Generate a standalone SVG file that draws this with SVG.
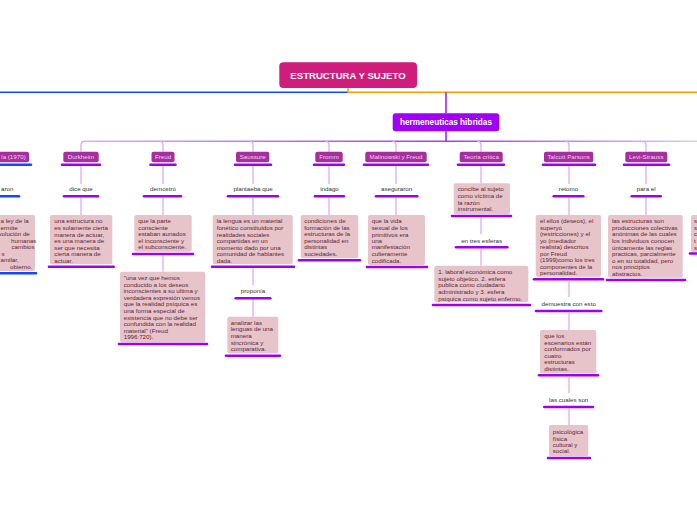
<svg xmlns="http://www.w3.org/2000/svg" width="697" height="520" viewBox="0 0 697 520">
<defs>
<linearGradient id="hg" gradientUnits="userSpaceOnUse" x1="0" y1="0" x2="697" y2="0">
<stop offset="0" stop-color="#e8c6fb"/>
<stop offset="0.64" stop-color="#a53cf5"/>
<stop offset="1" stop-color="#e8c6fb"/>
</linearGradient>
</defs>
<style>
text{font-family:"Liberation Sans",Arial,sans-serif;}
.n2 rect{fill:#a52f9c;}
.n2 text{fill:#f5cdf1;font-size:6.2px;text-anchor:middle;}
.ul{stroke:#a000f0;stroke-width:2.6;stroke-linecap:round;fill:none;}
.ulb{stroke:#1048ff;stroke-width:2.6;stroke-linecap:round;fill:none;}
.lbl{fill:#333;font-size:6.2px;text-anchor:middle;}
.bx rect{fill:#e6c4ca;}
.bx text{fill:#5e2434;font-size:6.2px;}
.c{stroke:#dcacf6;stroke-width:1.3;fill:none;}
</style>
<rect width="697" height="520" fill="#ffffff"/>

<g id="connectors">
<path d="M0,92.3 H348" stroke="#1048ff" stroke-width="1.4" fill="none"/>
<path d="M348,88 V92.3 H697" stroke="#f5a000" stroke-width="1.4" fill="none"/>
<path d="M446,92.3 V113.3" stroke="#a000f0" stroke-width="1.4" fill="none"/>
<path d="M446,131.3 V141.3" stroke="#a000f0" stroke-width="1.4" fill="none"/>
<path d="M81,151.7 V145 Q81,141.3 84.7,141.3 H697" stroke="url(#hg)" stroke-width="1.4" fill="none"/>
<path class="c" d="M159.3,141.3 Q163,141.3 163,145 V151.7"/>
<path class="c" d="M249.3,141.3 Q253,141.3 253,145 V151.7"/>
<path class="c" d="M325.3,141.3 Q329,141.3 329,145 V151.7"/>
<path class="c" d="M392.3,141.3 Q396,141.3 396,145 V151.7"/>
<path class="c" d="M477.3,141.3 Q481,141.3 481,145 V151.7"/>
<path class="c" d="M565.3,141.3 Q569,141.3 569,145 V151.7"/>
<path class="c" d="M642.3,141.3 Q646,141.3 646,145 V151.7"/>
<path class="c" d="M81,166 V184 M81,197.5 V215"/>
<path class="c" d="M163,166 V184 M163,197.5 V215 M163,255.5 V271.7"/>
<path class="c" d="M253,166 V184 M253,197.5 V215 M253,268 V285 M253,299.5 V316.7"/>
<path class="c" d="M329,166 V184 M329,197.5 V215"/>
<path class="c" d="M396,166 V184 M396,197.5 V215"/>
<path class="c" d="M481,166 V183.3 M481,217.5 V234 M481,248.8 V265.7"/>
<path class="c" d="M569,166 V184 M569,197.5 V215 M569,281 V297 M569,312.5 V330 M569,377 V393 M569,408.5 V425"/>
<path class="c" d="M646,166 V184 M646,197.5 V215"/>
</g>

<g id="root">
<rect x="279.3" y="62.3" width="137.7" height="25.7" rx="4" fill="#cf1d7b"/>
<text x="348" y="79.3" fill="#ffffff" font-size="9.6" font-weight="bold" text-anchor="middle">ESTRUCTURA Y SUJETO</text>
</g>

<g id="hermeneuticas">
<rect x="392.7" y="113.3" width="106.6" height="18" rx="3" fill="#a000f5"/>
<text x="446" y="125.3" fill="#ffffff" font-size="8.2" font-weight="bold" text-anchor="middle">hermeneuticas hibridas</text>
</g>

<g id="n-left">
<g class="n2"><rect x="-25" y="151.7" width="54" height="10.6" rx="2"/><text x="25.7" y="159.3" style="text-anchor:end">la (1970)</text></g>
<path class="ulb" d="M-5,164.8 H31"/>
<text class="lbl" x="13.5" y="191" style="text-anchor:end">aron</text>
<path class="ulb" d="M-5,196.3 H19"/>
<g class="bx"><rect x="-30" y="215" width="65" height="56" rx="2"/>
<text x="0.5" y="223.2">a ley de la</text>
<text x="0.5" y="229.9">ermite</text>
<text x="-1.5" y="236.2">volución de</text>
<text x="11" y="242.9">humanas</text>
<text x="11.5" y="249.2">cambios</text>
<text x="1.5" y="255.9">s</text>
<text x="0.5" y="262.2">amilar,</text>
<text x="10" y="268.9">obierno.</text>
</g>
<path class="ulb" d="M-5,273.3 H36"/>
</g>

<g id="n-durkheim">
<g class="n2"><rect x="63.3" y="151.7" width="35.4" height="10.6" rx="2"/><text x="81" y="159.3">Durkheim</text></g>
<path class="ul" d="M62,164.8 H100"/>
<text class="lbl" x="81" y="191">dice que</text>
<path class="ul" d="M64,196.3 H98"/>
<g class="bx"><rect x="50" y="215" width="62.3" height="49.3" rx="2"/>
<text x="54.3" y="223.2">una estructura no</text>
<text x="54.3" y="229.9">es solamente cierta</text>
<text x="54.3" y="236.5">manera de actuar,</text>
<text x="54.3" y="242.9">es una manera de</text>
<text x="54.3" y="249.5">ser que necesita</text>
<text x="54.3" y="255.9">cierta manera de</text>
<text x="54.3" y="262.5">actuar.</text>
</g>
<path class="ul" d="M49,266.7 H113.7"/>
</g>

<g id="n-freud">
<g class="n2"><rect x="151.5" y="151.7" width="23" height="10.6" rx="2"/><text x="163" y="159.3">Freud</text></g>
<path class="ul" d="M150.5,164.8 H175.5"/>
<text class="lbl" x="163" y="191">demostró</text>
<path class="ul" d="M144,196.3 H181"/>
<g class="bx"><rect x="134.3" y="215" width="57.4" height="36.7" rx="2"/>
<text x="138.3" y="223.2">que la parte</text>
<text x="138.3" y="229.9">consciente</text>
<text x="138.3" y="236.2">estaban aunados</text>
<text x="138.3" y="242.9">el inconsciente y</text>
<text x="138.3" y="249.2">el subconsciente.</text>
</g>
<path class="ul" d="M133,254 H193"/>
<g class="bx"><rect x="120" y="271.7" width="85.3" height="70.6" rx="2"/>
<text x="123.7" y="279.9">"una vez que hemos</text>
<text x="123.7" y="286.5">conducido a los deseos</text>
<text x="123.7" y="292.9">inconscientes a su ultima y</text>
<text x="123.7" y="299.5">verdadera expresión vemos</text>
<text x="123.7" y="306.2">que la realidad psíquica es</text>
<text x="123.7" y="312.9">una forma especial de</text>
<text x="123.7" y="319.5">existencia que no debe ser</text>
<text x="123.7" y="326.2">confundida con la realidad</text>
<text x="123.7" y="332.5">material" (Freud</text>
<text x="123.7" y="339.2">1996:720).</text>
</g>
<path class="ul" d="M119,344 H207"/>
</g>

<g id="n-saussure">
<g class="n2"><rect x="236" y="151.7" width="33.3" height="10.6" rx="2"/><text x="252.7" y="159.3">Saussure</text></g>
<path class="ul" d="M235,164.8 H271"/>
<text class="lbl" x="253" y="191">plantaeba que</text>
<path class="ul" d="M228,196.3 H278"/>
<g class="bx"><rect x="212.7" y="215" width="80" height="49.3" rx="2"/>
<text x="216.7" y="223.2">la lengua es un material</text>
<text x="216.7" y="229.9">fonético constituidos por</text>
<text x="216.7" y="236.5">realidades sociales</text>
<text x="216.7" y="242.9">compartidas en un</text>
<text x="216.7" y="249.5">momento dado por una</text>
<text x="216.7" y="255.9">comunidad de hablantes</text>
<text x="216.7" y="262.5">dada.</text>
</g>
<path class="ul" d="M212,266.7 H294"/>
<text class="lbl" x="253" y="293.2">proponía</text>
<path class="ul" d="M235.7,298.3 H270.3"/>
<g class="bx"><rect x="227.3" y="316.7" width="51" height="36.6" rx="2"/>
<text x="230.7" y="324.9">analizar las</text>
<text x="230.7" y="331.2">lenguas de una</text>
<text x="230.7" y="337.9">manera</text>
<text x="230.7" y="344.5">sincrónica y</text>
<text x="230.7" y="351.2">comparativa.</text>
</g>
<path class="ul" d="M226,355.7 H280"/>
</g>

<g id="n-fromm">
<g class="n2"><rect x="315.3" y="151.7" width="27.4" height="10.6" rx="2"/><text x="329" y="159.3">Fromm</text></g>
<path class="ul" d="M314,164.8 H344"/>
<text class="lbl" x="329.5" y="191">indago</text>
<path class="ul" d="M315,196.3 H344"/>
<g class="bx"><rect x="300.7" y="215" width="57.6" height="43.3" rx="2"/>
<text x="304.3" y="223.2">condiciones de</text>
<text x="304.3" y="229.5">formación de las</text>
<text x="304.3" y="236.2">estructuras de la</text>
<text x="304.3" y="242.5">personalidad en</text>
<text x="304.3" y="249.2">distintas</text>
<text x="304.3" y="255.5">sociedades.</text>
</g>
<path class="ul" d="M299,260.3 H360"/>
</g>

<g id="n-malinowski">
<g class="n2"><rect x="365.3" y="151.7" width="61.4" height="10.6" rx="2"/><text x="396" y="159.3">Malinowski y Freud</text></g>
<path class="ul" d="M364,164.8 H428"/>
<text class="lbl" x="396.6" y="191">aseguraron</text>
<path class="ul" d="M376,196.3 H417.3"/>
<g class="bx"><rect x="368" y="215" width="57" height="50" rx="2"/>
<text x="371.7" y="223.2">que la vida</text>
<text x="371.7" y="229.5">sexual de los</text>
<text x="371.7" y="236.5">primitivos era</text>
<text x="371.7" y="242.9">una</text>
<text x="371.7" y="249.2">manifestación</text>
<text x="371.7" y="255.9">culteramente</text>
<text x="371.7" y="262.5">codificada.</text>
</g>
<path class="ul" d="M367,267 H427"/>
</g>

<g id="n-teoria">
<g class="n2"><rect x="459.7" y="151.7" width="43" height="10.6" rx="2"/><text x="481.2" y="159.3">Teoría crítica</text></g>
<path class="ul" d="M458,164.8 H504"/>
<g class="bx"><rect x="453.7" y="183.3" width="56.3" height="30.7" rx="2"/>
<text x="457.7" y="191.2">concibe al sujeto</text>
<text x="457.7" y="198.2">como víctima de</text>
<text x="457.7" y="204.5">la razón</text>
<text x="457.7" y="210.9">instrumental.</text>
</g>
<path class="ul" d="M452,216 H511"/>
<text class="lbl" x="481.6" y="242.5">en tres esferas</text>
<path class="ul" d="M456,247.3 H507.3"/>
<g class="bx"><rect x="434.3" y="265.7" width="94" height="36.6" rx="2"/>
<text x="438.3" y="274.2">1. laboral económica como</text>
<text x="438.3" y="280.5">sujeto objetico. 2. esfera</text>
<text x="438.3" y="287.2">publica como ciudadano</text>
<text x="438.3" y="293.9">administrado y 3. esfera</text>
<text x="438.3" y="300.5">psiquica como sujeto enfermo.</text>
</g>
<path class="ul" d="M433,305 H530"/>
</g>

<g id="n-parsons">
<g class="n2"><rect x="544" y="151.7" width="49.3" height="10.6" rx="2"/><text x="568.7" y="159.3">Talcott Parsons</text></g>
<path class="ul" d="M543,164.8 H595"/>
<text class="lbl" x="568.5" y="191">retomo</text>
<path class="ul" d="M553.7,196.3 H583.3"/>
<g class="bx"><rect x="535.7" y="215" width="65.3" height="61.7" rx="2"/>
<text x="540" y="223.2">el ellos (deseos), el</text>
<text x="540" y="229.9">superyó</text>
<text x="540" y="236.2">(restricciones) y el</text>
<text x="540" y="242.9">yo (mediador</text>
<text x="540" y="249.2">realista) descritos</text>
<text x="540" y="255.5">por Freud</text>
<text x="540" y="262.2">(1999)como los tres</text>
<text x="540" y="268.5">componentes de la</text>
<text x="540" y="275.2">personalidad.</text>
</g>
<path class="ul" d="M534,279.3 H603"/>
<text class="lbl" x="568.7" y="306.2">demuestra con esto</text>
<path class="ul" d="M536,311 H601.3"/>
<g class="bx"><rect x="540" y="330" width="56.3" height="43.3" rx="2"/>
<text x="544.3" y="338.2">que los</text>
<text x="544.3" y="344.5">escenarios están</text>
<text x="544.3" y="351.2">conformados por</text>
<text x="544.3" y="357.5">cuatro</text>
<text x="544.3" y="364.2">estructuras</text>
<text x="544.3" y="370.5">distintas.</text>
</g>
<path class="ul" d="M539,375.3 H598"/>
<text class="lbl" x="568.7" y="402.2">las cuales son</text>
<path class="ul" d="M544.3,407 H593"/>
<g class="bx"><rect x="549" y="425" width="39.3" height="31" rx="2"/>
<text x="552.7" y="433.9">psicológica</text>
<text x="552.7" y="440.5">física</text>
<text x="552.7" y="446.9">cultural y</text>
<text x="552.7" y="453.2">social.</text>
</g>
<path class="ul" d="M548,458 H590"/>
</g>

<g id="n-levi">
<g class="n2"><rect x="625.3" y="151.7" width="42" height="10.6" rx="2"/><text x="646.3" y="159.3">Levi-Strauss</text></g>
<path class="ul" d="M624,164.8 H669"/>
<text class="lbl" x="646.2" y="191">para el</text>
<path class="ul" d="M631.7,196.3 H660.7"/>
<g class="bx"><rect x="608" y="215" width="74.7" height="62.7" rx="2"/>
<text x="612" y="223.2">las estructuras son</text>
<text x="612" y="229.5">producciones colectivas</text>
<text x="612" y="236.2">anónimas de las cuales</text>
<text x="612" y="242.9">los individuos conocen</text>
<text x="612" y="249.5">únicamente las reglas</text>
<text x="612" y="256.2">practicas, parcialmente</text>
<text x="612" y="262.9">o en su totalidad, pero</text>
<text x="612" y="269.2">nos principios</text>
<text x="612" y="275.5">abstractos.</text>
</g>
<path class="ul" d="M607,280 H685"/>
</g>

<g id="n-right">
<g class="bx"><rect x="691" y="215" width="20" height="37" rx="2"/>
<text x="694" y="223.2">s</text>
<text x="694" y="229.5">s</text>
<text x="694" y="236.2">c</text>
<text x="694" y="242.9">t</text>
<text x="694" y="249.5">s</text>
</g>
<path class="ul" d="M690,253.5 H702"/>
</g>
</svg>
